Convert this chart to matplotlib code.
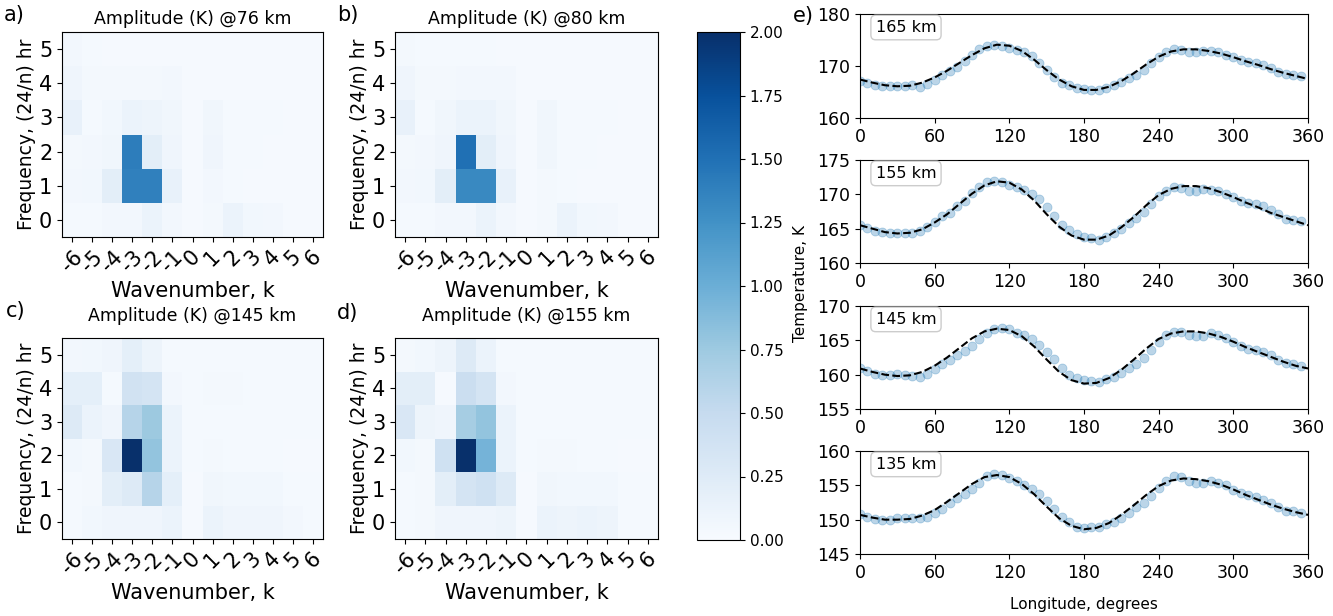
import numpy as np
import matplotlib
matplotlib.use("Agg")
import matplotlib.pyplot as plt

# wavenumber / frequency grid of the amplitude spectra
wavenumbers = list(range(-6, 7))
frequencies = list(range(0, 6))

# amplitude (K), rows = frequency 0..5, columns = k -6..6
amp_76 = [
    [0.03, 0.03, 0.05, 0.05, 0.12, 0.05, 0.02, 0.04, 0.12, 0.06, 0.05, 0.02, 0.02],
    [0.05, 0.06, 0.20, 1.38, 1.38, 0.15, 0.02, 0.05, 0.03, 0.02, 0.02, 0.02, 0.02],
    [0.04, 0.05, 0.07, 1.40, 0.20, 0.08, 0.02, 0.08, 0.03, 0.03, 0.02, 0.02, 0.02],
    [0.15, 0.03, 0.06, 0.12, 0.10, 0.07, 0.02, 0.07, 0.03, 0.03, 0.03, 0.02, 0.02],
    [0.08, 0.04, 0.04, 0.04, 0.04, 0.05, 0.02, 0.02, 0.02, 0.02, 0.02, 0.02, 0.02],
    [0.05, 0.03, 0.02, 0.02, 0.02, 0.02, 0.02, 0.02, 0.02, 0.02, 0.02, 0.02, 0.02],
]
amp_80 = [
    [0.03, 0.03, 0.05, 0.05, 0.12, 0.05, 0.02, 0.04, 0.12, 0.06, 0.05, 0.02, 0.02],
    [0.05, 0.06, 0.20, 1.32, 1.32, 0.15, 0.02, 0.04, 0.03, 0.02, 0.02, 0.02, 0.02],
    [0.04, 0.05, 0.08, 1.50, 0.20, 0.08, 0.02, 0.07, 0.03, 0.03, 0.02, 0.02, 0.02],
    [0.15, 0.03, 0.07, 0.12, 0.12, 0.07, 0.02, 0.07, 0.03, 0.03, 0.03, 0.02, 0.02],
    [0.08, 0.04, 0.04, 0.05, 0.05, 0.05, 0.02, 0.02, 0.02, 0.02, 0.02, 0.02, 0.02],
    [0.04, 0.03, 0.03, 0.03, 0.03, 0.02, 0.02, 0.02, 0.02, 0.02, 0.02, 0.02, 0.02],
]
amp_145 = [
    [0.03, 0.06, 0.08, 0.08, 0.08, 0.12, 0.02, 0.12, 0.08, 0.08, 0.08, 0.05, 0.03],
    [0.03, 0.04, 0.20, 0.25, 0.60, 0.18, 0.02, 0.07, 0.06, 0.06, 0.06, 0.03, 0.03],
    [0.06, 0.04, 0.30, 2.00, 0.80, 0.12, 0.03, 0.04, 0.03, 0.03, 0.03, 0.02, 0.02],
    [0.25, 0.12, 0.08, 0.60, 0.75, 0.12, 0.03, 0.03, 0.03, 0.03, 0.03, 0.03, 0.03],
    [0.18, 0.18, 0.03, 0.38, 0.35, 0.05, 0.03, 0.04, 0.04, 0.03, 0.03, 0.03, 0.03],
    [0.05, 0.06, 0.08, 0.18, 0.10, 0.03, 0.03, 0.03, 0.03, 0.03, 0.03, 0.03, 0.03],
]
amp_155 = [
    [0.03, 0.04, 0.08, 0.08, 0.08, 0.10, 0.02, 0.12, 0.10, 0.12, 0.10, 0.03, 0.03],
    [0.03, 0.04, 0.20, 0.35, 0.40, 0.25, 0.02, 0.07, 0.06, 0.06, 0.06, 0.03, 0.03],
    [0.06, 0.04, 0.40, 2.20, 0.95, 0.12, 0.03, 0.04, 0.04, 0.03, 0.03, 0.02, 0.02],
    [0.30, 0.10, 0.08, 0.70, 0.80, 0.12, 0.03, 0.03, 0.03, 0.03, 0.03, 0.03, 0.03],
    [0.20, 0.20, 0.02, 0.45, 0.35, 0.05, 0.03, 0.03, 0.03, 0.03, 0.03, 0.03, 0.03],
    [0.04, 0.06, 0.10, 0.25, 0.12, 0.03, 0.03, 0.03, 0.03, 0.03, 0.03, 0.03, 0.03],
]
spectra = [("a)", "76", amp_76), ("b)", "80", amp_80),
           ("c)", "145", amp_145), ("d)", "155", amp_155)]

# temperature vs longitude: observed points and fitted curve
lon_obs = list(range(0, 360, 6))
lon_fit = list(range(0, 361, 10))

t165_obs = [167.2, 166.8, 166.4, 166.2, 166.2, 166.1, 166.2, 166.3, 166.0, 166.6,
            167.3, 168.3, 169.1, 169.9, 170.9, 172.2, 173.3, 173.8, 174.1, 173.8,
            173.4, 173.1, 172.6, 171.9, 170.6, 169.2, 167.9, 166.8, 166.3, 165.8,
            165.5, 165.3, 165.4, 165.8, 166.4, 166.9, 167.6, 168.3, 169.3, 170.6,
            171.8, 172.6, 173.3, 173.1, 172.7, 172.6, 172.9, 172.9, 172.6, 172.2,
            171.7, 171.1, 170.8, 170.6, 170.1, 169.6, 168.8, 168.5, 168.3, 168.0]
t165_fit = [167.4, 166.8, 166.3, 166.1, 166.2, 166.8, 167.8, 169.1, 170.6, 172.1,
            173.4, 174.1, 173.9, 172.9, 171.2, 169.2, 167.4, 166.1, 165.4, 165.4,
            166.0, 167.1, 168.6, 170.3, 171.8, 172.8, 173.2, 173.2, 172.9, 172.4,
            171.7, 170.9, 170.2, 169.4, 168.7, 168.1, 167.5]

t155_obs = [165.6, 165.1, 164.7, 164.5, 164.3, 164.4, 164.4, 164.3, 164.6, 165.3,
            166.0, 166.8, 167.3, 168.3, 169.1, 170.2, 171.1, 171.8, 171.9, 171.8,
            171.4, 171.0, 170.6, 170.1, 169.3, 168.2, 166.9, 165.6, 164.8, 164.2,
            163.8, 163.7, 163.4, 163.8, 164.3, 164.9, 165.8, 166.5, 167.4, 168.6,
            169.7, 170.5, 171.1, 170.9, 170.5, 170.5, 170.8, 170.7, 170.5, 170.1,
            169.6, 169.0, 168.8, 168.6, 168.3, 167.7, 167.1, 166.4, 166.3, 166.1]
t155_fit = [165.5, 165.0, 164.5, 164.3, 164.4, 164.9, 165.9, 167.1, 168.6, 170.1,
            171.3, 171.9, 171.7, 170.7, 169.1, 167.1, 165.3, 164.0, 163.4, 163.4,
            164.0, 165.2, 166.7, 168.4, 169.9, 170.8, 171.2, 171.2, 170.9, 170.3,
            169.6, 168.8, 168.1, 167.3, 166.7, 166.1, 165.5]

t145_obs = [161.0, 160.5, 160.1, 159.9, 160.0, 160.1, 160.0, 159.8, 159.7, 160.1,
            160.8, 161.5, 162.2, 162.9, 163.5, 164.2, 165.2, 166.1, 166.6, 166.8,
            166.6, 166.1, 165.8, 165.2, 164.3, 163.3, 162.3, 161.0, 160.0, 159.5,
            159.2, 159.1, 158.9, 159.3, 159.7, 160.3, 160.9, 161.5, 162.5, 163.6,
            164.8, 165.8, 166.2, 166.2, 165.8, 165.6, 165.7, 166.0, 165.8, 165.3,
            164.8, 164.2, 163.8, 163.6, 163.3, 162.8, 162.2, 161.7, 161.6, 161.3]
t145_fit = [160.9, 160.4, 160.0, 159.8, 159.9, 160.4, 161.3, 162.5, 163.9, 165.3,
            166.3, 166.7, 166.5, 165.6, 164.1, 162.2, 160.4, 159.2, 158.7, 158.8,
            159.5, 160.7, 162.2, 163.8, 165.2, 166.0, 166.3, 166.3, 166.0, 165.5,
            164.8, 164.0, 163.3, 162.6, 161.9, 161.3, 160.9]

t135_obs = [150.8, 150.4, 150.1, 149.9, 149.9, 150.2, 150.3, 150.3, 150.2, 150.4,
            150.9, 151.6, 152.5, 153.1, 153.7, 154.5, 155.4, 156.3, 156.6, 156.5,
            156.0, 155.6, 155.1, 154.5, 153.7, 152.7, 151.5, 150.4, 149.6, 148.9,
            148.8, 148.9, 149.0, 149.3, 149.7, 150.2, 150.9, 151.8, 152.5, 153.4,
            154.6, 155.6, 156.3, 156.2, 155.6, 155.3, 155.3, 155.6, 155.4, 155.0,
            154.3, 153.9, 153.6, 153.3, 152.9, 152.5, 151.9, 151.3, 151.2, 151.0]
t135_fit = [150.7, 150.3, 150.0, 150.0, 150.1, 150.6, 151.4, 152.6, 153.9, 155.2,
            156.2, 156.5, 156.2, 155.2, 153.7, 151.9, 150.2, 149.1, 148.6, 148.8,
            149.5, 150.7, 152.1, 153.6, 154.9, 155.7, 156.0, 155.9, 155.6, 155.1,
            154.4, 153.6, 152.9, 152.2, 151.6, 151.1, 150.7]

profiles = [("165 km", t165_obs, t165_fit, (160, 180), [160, 170, 180]),
            ("155 km", t155_obs, t155_fit, (160, 175), [160, 165, 170, 175]),
            ("145 km", t145_obs, t145_fit, (155, 170), [155, 160, 165, 170]),
            ("135 km", t135_obs, t135_fit, (145, 160), [145, 150, 155, 160])]

W, H = 1333, 616
fig = plt.figure(figsize=(W / 100, H / 100), dpi=100)


def box(x0, y0, x1, y1):
    # pixel box (top-left origin) -> figure fraction rect
    return [x0 / W, 1 - y1 / H, (x1 - x0) / W, (y1 - y0) / H]


heat_boxes = [box(62, 32, 323, 237), box(395, 32, 658, 237),
              box(62, 338, 323, 539), box(395, 338, 658, 539)]
# title gap above each map and the (x, y) pixel spot of its panel letter
title_pads = [6, 6, 12, 12]
tag_spots = [(4, 15), (337, 15), (6, 311), (337, 313)]

im = None
for (tag, height, amp), rect, pad, (tx, ty) in zip(spectra, heat_boxes,
                                                  title_pads, tag_spots):
    ax = fig.add_axes(rect)
    im = ax.imshow(np.array(amp), cmap="Blues", vmin=0, vmax=2, origin="lower",
                   aspect="auto", interpolation="nearest",
                   extent=(wavenumbers[0] - 0.5, wavenumbers[-1] + 0.5,
                           frequencies[0] - 0.5, frequencies[-1] + 0.5))
    ax.set_xticks(wavenumbers)
    ax.set_xticklabels([str(k) for k in wavenumbers], rotation=45, fontsize=15)
    ax.set_yticks(frequencies)
    ax.tick_params(axis="y", labelsize=15)
    ax.set_xlabel("Wavenumber, k", fontsize=15)
    ax.set_ylabel("Frequency, (24/n) hr", fontsize=13.5, labelpad=2)
    ax.set_title(f"Amplitude (K) @{height} km", fontsize=12.5, pad=pad)
    fig.text(tx / W, 1 - ty / H, tag, fontsize=15, va="center")

cax = fig.add_axes(box(697, 32, 740, 540))
cb = fig.colorbar(im, cax=cax, ticks=np.arange(0, 2.01, 0.25))
cb.ax.set_yticklabels([f"{v:.2f}" for v in np.arange(0, 2.01, 0.25)])
cb.ax.tick_params(labelsize=11)

line_boxes = [box(860, 14, 1308, 118), box(860, 160, 1308, 263),
              box(860, 306, 1308, 409), box(860, 451, 1308, 554)]

for (name, obs, fit, ylim, yticks), rect in zip(profiles, line_boxes):
    ax = fig.add_axes(rect)
    ax.scatter(lon_obs, obs, s=42, color="#1f77b4", alpha=0.3, edgecolors="#1f77b4",
               linewidths=0.6, zorder=2)
    ax.plot(lon_fit, fit, "k--", lw=1.5, zorder=3)
    ax.set_xlim(0, 360)
    ax.set_ylim(*ylim)
    ax.set_xticks(range(0, 361, 60))
    ax.set_yticks(yticks)
    ax.tick_params(labelsize=12.5)
    ax.text(0.035, 0.87, name, transform=ax.transAxes, fontsize=11.5, va="center",
            bbox=dict(boxstyle="round,pad=0.3", fc="white", ec="#cccccc"))

fig.text(800 / W, 1 - 284 / H, "Temperature, K", rotation=90, fontsize=11,
         ha="center", va="center")
fig.text(1084 / W, 1 - 604 / H, "Longitude, degrees", fontsize=11,
         ha="center", va="center")
fig.text(793 / W, 1 - 16 / H, "e)", fontsize=15, va="center")

fig.savefig("out.png", dpi=100)
